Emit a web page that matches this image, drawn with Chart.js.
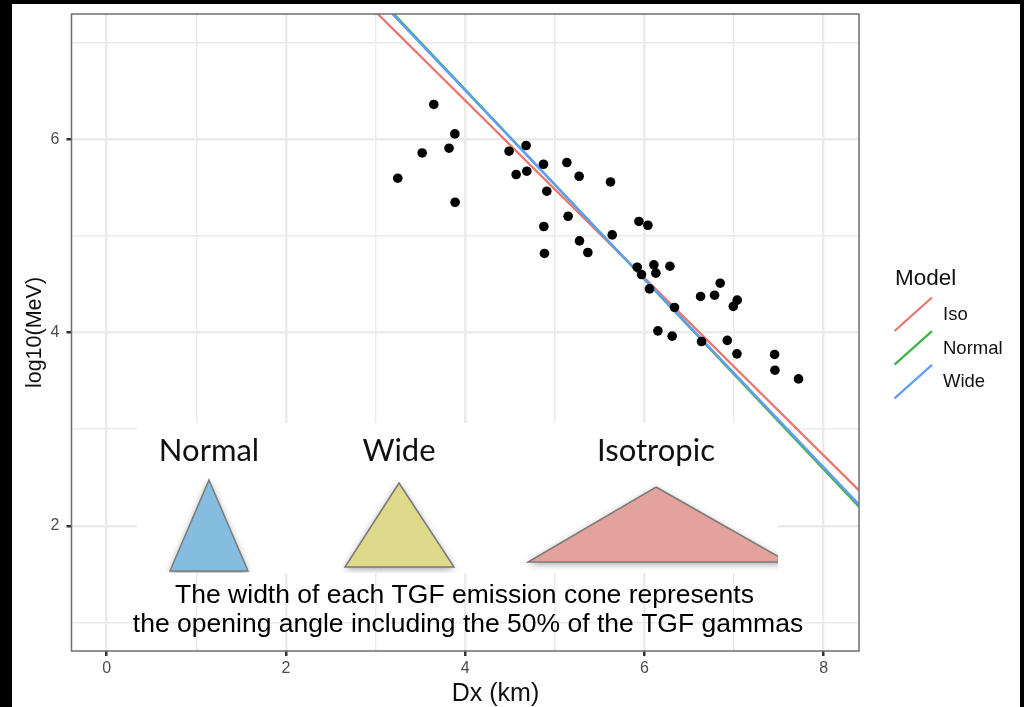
<!DOCTYPE html>
<html>
<head>
<meta charset="utf-8">
<title>TGF emission cone models</title>
<script src="https://cdn.jsdelivr.net/npm/chart.js@4/dist/chart.umd.js"></script>
<style>
  html, body { margin: 0; padding: 0; background: #000; overflow: hidden; }
  #sheet { position: absolute; left: 12px; top: 4px; width: 1008px; height: 703px; background: #fff; }
  #chart { position: absolute; left: 0; top: 0; }
</style>
</head>
<body>
<div id="sheet"></div>
<canvas id="chart" width="1024" height="707"></canvas>
<script>
const eventDx = [3.65, 3.885, 3.82, 3.52, 3.248, 3.888, 4.49, 4.68, 4.569, 4.688, 4.874, 5.135, 5.272, 5.622,
  4.911, 5.149, 4.878, 4.885, 5.276, 5.369, 5.641, 5.939, 6.039, 5.92, 5.968, 6.106, 6.128, 6.285, 6.057,
  6.336, 6.627, 6.783, 6.846, 7.036, 6.992, 6.151, 6.31, 6.638, 6.925, 7.033, 7.453, 7.457, 7.72];
const eventLogE = [6.36, 6.055, 5.907, 5.858, 5.597, 5.348, 5.876, 5.935, 5.635, 5.669, 5.741, 5.759, 5.617, 5.558,
  5.462, 5.203, 5.097, 4.818, 4.948, 4.828, 5.01, 5.149, 5.11, 4.676, 4.6, 4.7, 4.614, 4.686, 4.451,
  4.259, 4.373, 4.386, 4.51, 4.335, 4.27, 4.017, 3.962, 3.907, 3.918, 3.779, 3.773, 3.61, 3.52];

const isoDx = [3.025, 8.395];
const isoLogE = [7.296, 2.366];
const normalDx = [3.204, 8.395];
const normalLogE = [7.296, 2.198];
const wideDx = [3.188, 8.395];
const wideLogE = [7.296, 2.22];

const xTicks = [0, 1, 2, 3, 4, 5, 6, 7, 8];
const yTicks = [1, 2, 3, 4, 5, 6, 7];
const xRange = [-0.393, 8.395];
const yRange = [0.704, 7.296];

const sans = '"Liberation Sans", Arial, sans-serif';
const isMajor = v => v % 2 === 0;

function zip(xs, ys) {
  return xs.map((x, i) => ({ x, y: ys[i] }));
}

function lineSet(label, xs, ys, color, order) {
  return {
    label,
    data: zip(xs, ys),
    showLine: true,
    borderColor: color,
    backgroundColor: color,
    borderWidth: 2.3,
    pointRadius: 0,
    order,
  };
}

function fixedAxis(tickValues, range, size, sizeKey, tickPadding) {
  return {
    type: 'linear',
    bounds: 'data',
    min: range[0],
    max: range[1],
    afterBuildTicks: scale => { scale.ticks = tickValues.map(value => ({ value })); },
    afterFit: scale => {
      scale[sizeKey] = size;
      // keep the panel where it is, whatever the tick label overhang
      scale.paddingTop = 0;
      scale.paddingBottom = 0;
      scale.paddingLeft = 0;
      scale.paddingRight = 0;
    },
    border: { display: false },
    grid: {
      color: '#ebebeb',
      lineWidth: c => (isMajor(c.tick.value) ? 2.5 : 1.5),
      tickColor: c => (isMajor(c.tick.value) ? '#333333' : 'rgba(0,0,0,0)'),
      tickLength: 5,
    },
    ticks: {
      autoSkip: false,
      maxRotation: 0,
      padding: tickPadding,
      color: '#4d4d4d',
      font: { family: sans, size: 16 },
      callback: v => (isMajor(v) ? String(v) : ''),
    },
  };
}

function triangle(ctx, pts, fill) {
  ctx.beginPath();
  ctx.moveTo(pts[0][0], pts[0][1]);
  ctx.lineTo(pts[1][0], pts[1][1]);
  ctx.lineTo(pts[2][0], pts[2][1]);
  ctx.closePath();
  ctx.save();
  ctx.shadowColor = 'rgba(0,0,0,0.4)';
  ctx.shadowBlur = 7;
  ctx.shadowOffsetY = 2;
  ctx.fillStyle = fill;
  ctx.fill();
  ctx.restore();
  ctx.strokeStyle = '#7a7a7a';
  ctx.lineWidth = 1.5;
  ctx.stroke();
}

// the cone sketch pasted over the plot, plus panel border, x title and legend
const overlay = {
  id: 'overlay',
  afterDatasetsDraw(chart) {
    const { ctx, chartArea: a } = chart;
    ctx.save();

    ctx.fillStyle = '#fff';
    ctx.fillRect(137, 423, 641, 150);

    ctx.save();
    ctx.beginPath();
    ctx.rect(137, 423, 641, 150);
    ctx.clip();
    triangle(ctx, [[209, 480], [248, 571], [170, 571]], '#85bde0');
    triangle(ctx, [[399, 483], [454, 567], [345, 567]], '#dfd98a');
    triangle(ctx, [[656, 487], [788, 562], [528, 562]], '#e3a29b');
    ctx.restore();

    ctx.fillStyle = '#111';
    ctx.textAlign = 'center';
    ctx.textBaseline = 'alphabetic';
    ctx.font = '31px Lato, sans-serif';
    ctx.fillText('Normal', 209, 461);
    ctx.fillText('Wide', 399, 461);
    ctx.fillText('Isotropic', 656, 461);

    ctx.fillStyle = '#000';
    ctx.font = '26.5px ' + sans;
    ctx.fillText('The width of each TGF emission cone represents', 464.5, 603);
    ctx.fillText('the opening angle including the 50% of the TGF gammas', 468, 632);

    ctx.strokeStyle = '#6e6e6e';
    ctx.lineWidth = 1.5;
    ctx.strokeRect(a.left, a.top, a.right - a.left, a.bottom - a.top);

    ctx.fillStyle = '#111';
    ctx.font = '25px ' + sans;
    ctx.fillText('Dx (km)', 495.5, 701);

    ctx.textAlign = 'left';
    ctx.font = '22.5px ' + sans;
    ctx.fillText('Model', 895, 285);
    ctx.font = '18.5px ' + sans;
    chart.data.datasets.filter(d => d.showLine).forEach((d, i) => {
      const y0 = 331 + i * 33.7;
      ctx.strokeStyle = d.borderColor;
      ctx.lineWidth = 2.3;
      ctx.beginPath();
      ctx.moveTo(894.5, y0);
      ctx.lineTo(932, y0 - 33.5);
      ctx.stroke();
      ctx.fillStyle = '#111';
      ctx.fillText(d.label, 943, y0 - 11);
    });

    ctx.restore();
  },
};

new Chart(document.getElementById('chart'), {
  type: 'scatter',
  data: {
    datasets: [
      {
        label: 'Events',
        data: zip(eventDx, eventLogE),
        backgroundColor: '#000',
        borderColor: '#000',
        pointRadius: 4.8,
        pointBorderWidth: 0,
        order: 0,
      },
      lineSet('Iso', isoDx, isoLogE, '#e8776f', 3),
      lineSet('Normal', normalDx, normalLogE, '#3fb44a', 2),
      lineSet('Wide', wideDx, wideLogE, '#619cff', 1),
    ],
  },
  options: {
    responsive: false,
    animation: false,
    layout: { padding: { left: 0, top: 14, right: 165, bottom: 0 } },
    plugins: {
      legend: { display: false },
      tooltip: { enabled: false },
    },
    scales: {
      x: fixedAxis(xTicks, xRange, 56, 'height', 3),
      y: {
        ...fixedAxis(yTicks, yRange, 71.5, 'width', 7),
        title: {
          display: true,
          text: 'log10(MeV)',
          color: '#111',
          font: { family: sans, size: 21.5 },
          padding: { top: 22, bottom: 0 },
        },
      },
    },
  },
  plugins: [overlay],
});
</script>
</body>
</html>
